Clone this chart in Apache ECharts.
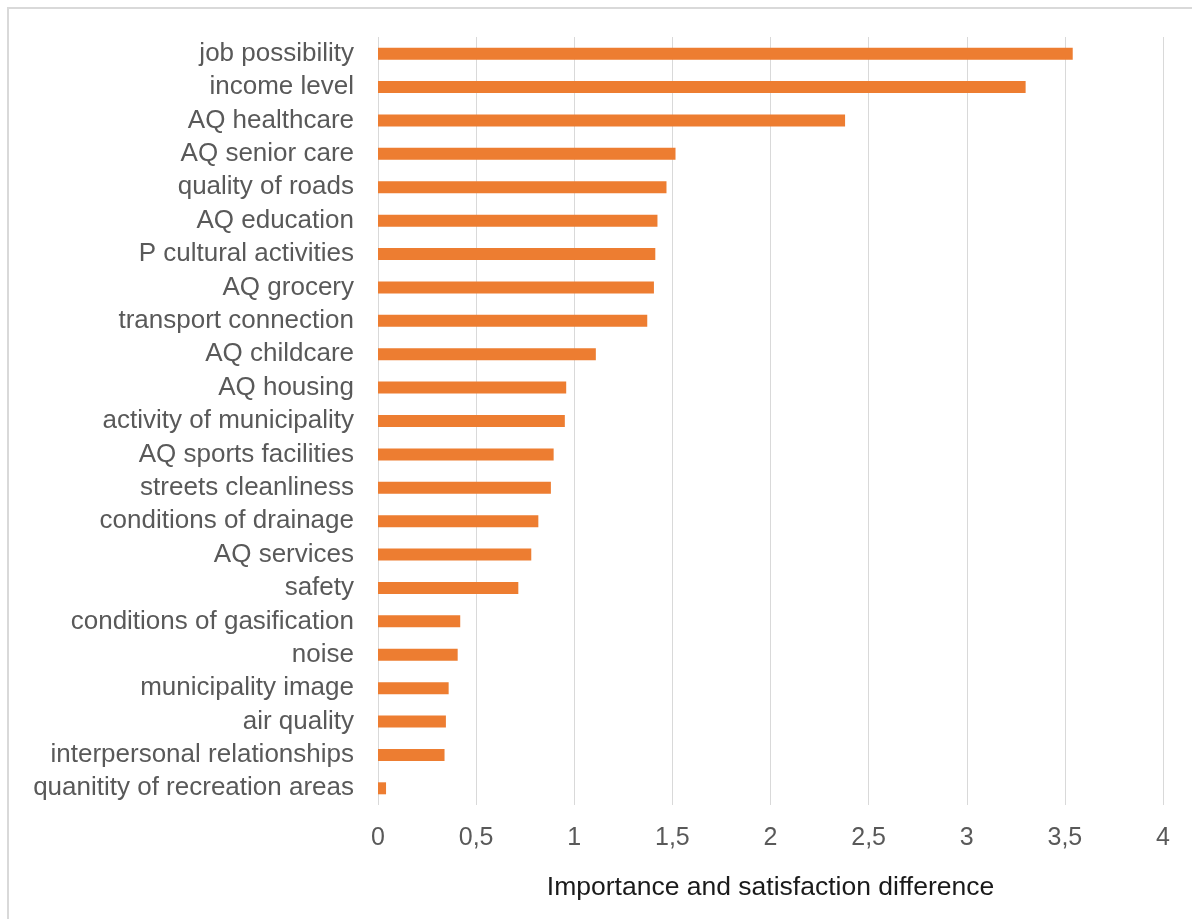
<!DOCTYPE html>
<html>
<head>
<meta charset="utf-8">
<script src="https://cdn.jsdelivr.net/npm/echarts@6/dist/echarts.min.js"></script>
<style>
html,body{margin:0;padding:0;background:#fff;}
#chart{width:1192px;height:919px;}
</style>
</head>
<body>
<div id="chart"></div>
<script>
const categories = [
  "job possibility","income level","AQ healthcare","AQ senior care","quality of roads",
  "AQ education","P cultural activities","AQ grocery","transport connection","AQ childcare",
  "AQ housing","activity of municipality","AQ sports facilities","streets cleanliness",
  "conditions of drainage","AQ services","safety","conditions of gasification","noise",
  "municipality image","air quality","interpersonal relationships","quanitity of recreation areas"
];
const values = [
  3.54, 3.30, 2.38, 1.516, 1.47,
  1.424, 1.413, 1.406, 1.372, 1.11,
  0.959, 0.952, 0.895, 0.881,
  0.817, 0.781, 0.715, 0.419, 0.406,
  0.36, 0.346, 0.339, 0.041
];
const xTicks = [0, 0.5, 1, 1.5, 2, 2.5, 3, 3.5, 4];
const axisTitle = "Importance and satisfaction difference";

const chart = echarts.init(document.getElementById('chart'), null, {renderer:'canvas'});
chart.setOption({
  animation: false,
  backgroundColor: '#ffffff',
  textStyle: {fontFamily: '"Liberation Sans", Arial, sans-serif'},
  graphic: [{
    type: 'rect',
    shape: {x: 8, y: 8, width: 1300, height: 1000},
    style: {fill: 'none', stroke: '#d9d9d9', lineWidth: 2},
    silent: true, z: -10
  }],
  grid: {left: 378, right: 29, top: 37, bottom: 114, containLabel: false},
  xAxis: {
    type: 'value',
    min: xTicks[0], max: xTicks[xTicks.length - 1], interval: 0.5,
    axisLine: {show: false},
    axisTick: {show: false},
    splitLine: {show: true, lineStyle: {color: '#d9d9d9', width: 1}},
    axisLabel: {
      color: '#595959', fontSize: 25, margin: 21,
      formatter: v => String(v).replace('.', ',')
    },
    name: axisTitle,
    nameLocation: 'middle',
    nameGap: 69,
    nameTextStyle: {color: '#1a1a1a', fontSize: 26.5}
  },
  yAxis: {
    type: 'category',
    data: categories,
    inverse: true,
    axisLine: {show: false},
    axisTick: {show: false},
    splitLine: {show: false},
    axisLabel: {color: '#595959', fontSize: 26, margin: 24, interval: 0}
  },
  series: [{
    type: 'bar',
    data: values,
    barWidth: 12,
    itemStyle: {color: '#ED7D31'}
  }]
});
</script>
</body>
</html>
